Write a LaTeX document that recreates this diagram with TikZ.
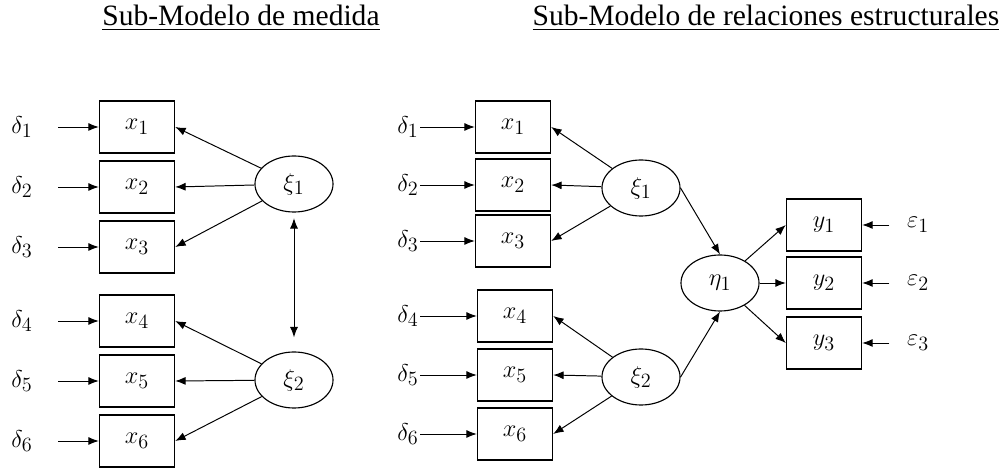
\documentclass[tikz,border=0pt]{standalone}
\usepackage{amsmath}
\usepackage{fontspec}
\newfontfamily\titlefont{Liberation Serif}
\usetikzlibrary{shapes.geometric,arrows.meta}

\begin{document}
\begin{tikzpicture}[x=0.025cm,y=-0.025cm,
                    >={Latex[length=2.6mm,width=2mm]},
                    obs node/.style={rectangle,draw,line width=1pt,minimum width=1.875cm,
                                     minimum height=1.3cm,font=\fontsize{19}{22}\selectfont},
                    lat node/.style={ellipse,draw,line width=0.8pt,minimum width=1.95cm,
                                     minimum height=1.4cm,inner sep=0pt,font=\fontsize{19}{22}\selectfont},
                    err node/.style={inner sep=1pt,font=\fontsize{19}{22}\selectfont},
                    title node/.style={font=\titlefont\fontsize{21}{24}\selectfont},
                    link/.style={->,line width=0.7pt}]
  \useasboundingbox (0,0) rectangle (1002,471);

  \node[title node] (t1) at (241,18) {\underline{Sub-Modelo de medida}};
  \node[title node] (t2) at (766,18) {\underline{Sub-Modelo de relaciones estructurales}};

  % sub-modelo de medida
  \foreach \i/\y in {1/127,2/187,3/247,4/321,5/381,6/441}{
    \node[obs node] (lx\i) at (137,\y) {$x_{\i}$};
    \node[err node] (ld\i) at (22,\y) {$\delta_{\i}$};
    \draw[link,shorten <=6mm] (ld\i) -- (lx\i);
  }
  \node[lat node] (lxi1) at (294,184) {$\xi_1$};
  \node[lat node] (lxi2) at (294,380) {$\xi_2$};
  \foreach \i in {1,2,3} \draw[link] (lxi1) -- (lx\i.east);
  \foreach \i in {4,5,6} \draw[link] (lxi2) -- (lx\i.east);
  \draw[link,<->,shorten <=4pt,shorten >=10pt] (lxi1) -- (lxi2);

  % sub-modelo de relaciones estructurales
  \foreach \i/\x/\y in {1/513/127,2/513/185,3/513/241,4/515/316,5/515/375,6/515/434}{
    \node[obs node] (rx\i) at (\x,\y) {$x_{\i}$};
    \node[err node] (rd\i) at (408,\y) {$\delta_{\i}$};
    \draw[link] (rd\i) -- (rx\i);
  }
  \node[lat node] (rxi1) at (641,188) {$\xi_1$};
  \node[lat node] (rxi2) at (641,377) {$\xi_2$};
  \foreach \i in {1,2,3} \draw[link] (rxi1) -- (rx\i.east);
  \foreach \i in {4,5,6} \draw[link] (rxi2) -- (rx\i.east);

  \node[lat node] (eta) at (720,283) {$\eta_1$};
  \draw[link] (rxi1.east) -- (eta.north);
  \draw[link] (rxi2.east) -- (eta.south);

  \foreach \i/\y in {1/225,2/283,3/343}{
    \node[obs node] (y\i) at (824,\y) {$y_{\i}$};
    \node[err node] (e\i) at (918,\y) {$\varepsilon_{\i}$};
    \draw[link] (eta) -- (y\i.west);
    \draw[link,shorten <=4mm] (e\i) -- (y\i);
  }
\end{tikzpicture}
\end{document}
